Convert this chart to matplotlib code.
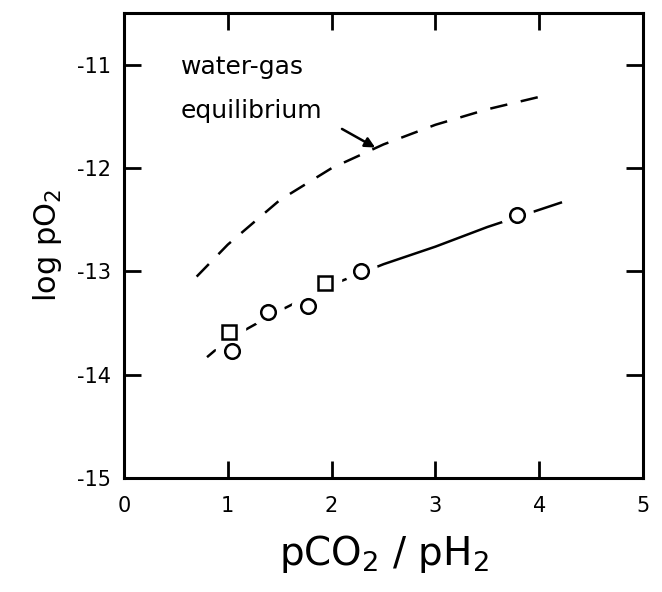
import numpy as np
import matplotlib
matplotlib.use('Agg')
import matplotlib.pyplot as plt

plt.rcParams['font.family'] = ['DejaVu Sans']
plt.rcParams['mathtext.fontset'] = 'dejavusans'

fit_x = [0.80, 1.0, 1.5, 2.0, 2.5, 3.0, 3.5, 4.22]
fit_y = [-13.83, -13.66, -13.38, -13.13, -12.93, -12.76, -12.57, -12.33]

# water-gas equilibrium curve
wg_x = [0.7, 1.0, 1.5, 2.0, 2.5, 3.0, 3.5, 4.0]
wg_y = [-13.05, -12.74, -12.31, -12.00, -11.77, -11.58, -11.43, -11.31]

# measured points
circ_x = [1.04, 1.39, 1.77, 2.28, 3.79]
circ_y = [-13.77, -13.39, -13.33, -13.00, -12.45]
sq_x = [1.01, 1.94]
sq_y = [-13.59, -13.11]

fig = plt.figure(figsize=(6.62, 5.92), dpi=100)
ax = fig.add_axes([0.1873, 0.1926, 0.784, 0.785])

ax.plot(fit_x, fit_y, color='black', linewidth=1.8, solid_capstyle='butt')
ax.plot(wg_x, wg_y, color='black', linewidth=1.8, dashes=(7, 5.5))

# white halos to break the line around the markers
ax.plot(circ_x, circ_y, linestyle='none', marker='o', ms=23, mfc='white', mec='white')
ax.plot(sq_x, sq_y, linestyle='none', marker='s', ms=23, mfc='white', mec='white')
ax.plot(circ_x, circ_y, linestyle='none', marker='o', ms=10.5, mfc='white', mec='black', mew=1.8)
ax.plot(sq_x, sq_y, linestyle='none', marker='s', ms=10, mfc='white', mec='black', mew=1.8)

ax.text(0.55, -11.02, 'water-gas', fontsize=18, va='center')
ax.text(0.55, -11.45, 'equilibrium', fontsize=18, va='center')
ax.annotate('', xy=(2.42, -11.8), xytext=(2.1, -11.62),
            arrowprops=dict(arrowstyle='-|>', color='black', lw=1.8,
                            mutation_scale=15, shrinkA=0, shrinkB=0))

ax.set_xlim(0, 5)
ax.set_ylim(-15, -10.5)
ax.set_xticks([0, 1, 2, 3, 4, 5])
ax.set_yticks([-15, -14, -13, -12, -11])
ax.set_xticklabels(['0', '1', '2', '3', '4', '5'])
ax.set_yticklabels(['-15', '-14', '-13', '-12', '-11'])
ax.tick_params(direction='in', length=12, width=2, labelsize=15,
               top=True, right=True, pad=9)
ax.tick_params(axis='x', pad=13)
for s in ax.spines.values():
    s.set_linewidth(2.2)

ax.set_xlabel(r'pCO$_2$ / pH$_2$', fontsize=28, labelpad=12)
ax.set_ylabel(r'log pO$_2$', fontsize=22, labelpad=10)

fig.savefig('out.png', dpi=100)
